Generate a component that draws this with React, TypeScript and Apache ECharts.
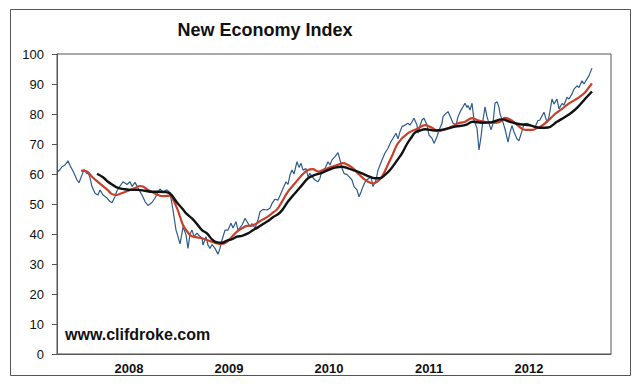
import React, { useEffect, useRef } from "react";
import * as echarts from "echarts";

const titleText = "New Economy Index";
const watermarkText = "www.clifdroke.com";
const yearLabels = [2008, 2009, 2010, 2011, 2012];
const xMin = 2007.28;
const xMax = 2012.82;
const yMin = 0;
const yMax = 100;
const yStep = 10;

// [decimal year, index value]
const blueIndex: [number, number][] = [
  [2007.28, 60.5], [2007.31, 61.5], [2007.33, 62.4], [2007.36, 63], [2007.39, 64.4], [2007.41, 62.8],
  [2007.44, 61], [2007.48, 58], [2007.5, 57.1], [2007.53, 59.7], [2007.55, 61.5], [2007.58, 60],
  [2007.59, 60.5], [2007.61, 58.7], [2007.63, 55.8], [2007.66, 53.6], [2007.69, 53], [2007.71, 54.7],
  [2007.74, 53], [2007.78, 52], [2007.81, 50.8], [2007.83, 50.4], [2007.86, 52.5], [2007.88, 54.4],
  [2007.91, 56], [2007.94, 57.4], [2007.98, 56.5], [2008.01, 57.4], [2008.03, 55.8], [2008.06, 57.2],
  [2008.09, 55.3], [2008.13, 53], [2008.16, 50.8], [2008.19, 49.5], [2008.23, 50.5], [2008.26, 52],
  [2008.29, 54], [2008.31, 55], [2008.34, 54], [2008.38, 54.7], [2008.41, 53.8], [2008.44, 48],
  [2008.47, 41.3], [2008.49, 39.1], [2008.51, 36.7], [2008.53, 40.3], [2008.54, 42.4], [2008.57, 39.8],
  [2008.59, 35.2], [2008.61, 40], [2008.63, 41.3], [2008.65, 39.1], [2008.68, 40.3], [2008.7, 39.5],
  [2008.73, 38.7], [2008.74, 36.3], [2008.77, 39.1], [2008.79, 36.3], [2008.81, 35.2], [2008.83, 36.5],
  [2008.86, 35.2], [2008.89, 33.3], [2008.91, 35.2], [2008.93, 38], [2008.96, 41.3], [2008.99, 41.3],
  [2009.02, 43.6], [2009.04, 42], [2009.07, 44.1], [2009.09, 41.3], [2009.13, 43], [2009.16, 45.2],
  [2009.19, 43.6], [2009.21, 42.4], [2009.23, 43.5], [2009.26, 41.9], [2009.29, 44.7], [2009.31, 47.4],
  [2009.34, 48.2], [2009.38, 48], [2009.41, 48.6], [2009.43, 50.2], [2009.46, 51.6], [2009.49, 51.3],
  [2009.52, 53.6], [2009.54, 55.2], [2009.57, 57.4], [2009.59, 56.5], [2009.61, 59.7], [2009.63, 61.3],
  [2009.65, 60], [2009.68, 64.1], [2009.7, 62.2], [2009.72, 63.6], [2009.74, 61.3], [2009.77, 61.8],
  [2009.79, 59.1], [2009.81, 60.2], [2009.83, 59.1], [2009.86, 58], [2009.89, 57.4], [2009.91, 58.6],
  [2009.93, 61.3], [2009.96, 61.8], [2009.99, 64.1], [2010.01, 63], [2010.03, 64.7], [2010.06, 65.8],
  [2010.09, 67.1], [2010.11, 64.7], [2010.13, 61.9], [2010.15, 60.2], [2010.18, 59.8], [2010.2, 59.1],
  [2010.23, 58], [2010.25, 55.8], [2010.28, 54.7], [2010.3, 52.4], [2010.32, 54], [2010.34, 55.8],
  [2010.37, 58], [2010.39, 58.3], [2010.42, 59.1], [2010.44, 55.8], [2010.47, 58], [2010.49, 61.3],
  [2010.51, 63], [2010.53, 64.7], [2010.56, 67], [2010.59, 68.6], [2010.62, 70.8], [2010.64, 71.9],
  [2010.67, 73.6], [2010.69, 71.7], [2010.71, 74.1], [2010.73, 75.8], [2010.76, 76.3], [2010.79, 76.9],
  [2010.81, 76.3], [2010.83, 77.4], [2010.85, 78.6], [2010.88, 76.3], [2010.89, 73.6], [2010.91, 76],
  [2010.93, 78], [2010.95, 78.6], [2010.98, 76.3], [2011.0, 73], [2011.03, 71.9], [2011.05, 70.2],
  [2011.08, 72.4], [2011.1, 74.7], [2011.13, 76.9], [2011.14, 79.1], [2011.17, 80.2], [2011.19, 80.8],
  [2011.22, 78.6], [2011.24, 76.9], [2011.27, 76.3], [2011.29, 79.1], [2011.32, 81.3], [2011.34, 82.4],
  [2011.36, 83.6], [2011.38, 82.2], [2011.39, 82.8], [2011.41, 81.3], [2011.43, 83.6], [2011.45, 78],
  [2011.48, 75.2], [2011.5, 68], [2011.52, 72.4], [2011.54, 78], [2011.56, 82.4], [2011.58, 79.1],
  [2011.6, 76.9], [2011.62, 74.7], [2011.64, 76.9], [2011.66, 83.6], [2011.68, 84.1], [2011.7, 82.2],
  [2011.71, 80], [2011.73, 78.3], [2011.76, 75], [2011.79, 70.6], [2011.81, 73.9], [2011.83, 76.1],
  [2011.85, 74], [2011.88, 71.7], [2011.9, 71.1], [2011.93, 74.4], [2011.95, 76.7], [2011.98, 76.9],
  [2012.01, 76.5], [2012.03, 76], [2012.06, 75.6], [2012.09, 77.8], [2012.11, 78], [2012.13, 79.4],
  [2012.15, 80.6], [2012.18, 77.2], [2012.2, 79], [2012.23, 85], [2012.25, 83.3], [2012.28, 85],
  [2012.3, 81.7], [2012.33, 83.5], [2012.35, 83], [2012.38, 85.6], [2012.4, 85], [2012.43, 86.7],
  [2012.45, 88.3], [2012.48, 89.4], [2012.5, 88.8], [2012.53, 91.1], [2012.55, 90], [2012.58, 91.7],
  [2012.6, 92.8], [2012.63, 95.3],
];

const redAverage: [number, number][] = [
  [2007.52, 61.1], [2007.58, 60.8], [2007.63, 59.1], [2007.68, 57.6], [2007.73, 56.2], [2007.78, 54.9],
  [2007.83, 53.3], [2007.88, 53], [2007.91, 53.4], [2007.96, 54], [2008.01, 54.7], [2008.06, 55.3],
  [2008.11, 56], [2008.14, 55.8], [2008.19, 54.7], [2008.24, 53.8], [2008.29, 53], [2008.34, 52.6],
  [2008.41, 52.8], [2008.44, 51.5], [2008.48, 48.6], [2008.51, 45.8], [2008.54, 43], [2008.58, 40.9],
  [2008.63, 39.2], [2008.68, 38.9], [2008.73, 38.6], [2008.78, 38], [2008.83, 37.4], [2008.88, 36.9],
  [2008.93, 36.7], [2008.98, 37.4], [2009.03, 39.1], [2009.08, 40.8], [2009.13, 41.9], [2009.18, 42.7],
  [2009.23, 42.8], [2009.28, 43.6], [2009.33, 44.7], [2009.38, 45.6], [2009.43, 46.9], [2009.48, 48.2],
  [2009.53, 50.8], [2009.59, 54.1], [2009.66, 56.9], [2009.73, 59.7], [2009.79, 61.3], [2009.84, 61.6],
  [2009.89, 60.8], [2009.94, 61.3], [2010.01, 62.2], [2010.08, 63], [2010.14, 63.6], [2010.19, 63],
  [2010.24, 61.9], [2010.29, 60.2], [2010.34, 58.6], [2010.39, 57.4], [2010.44, 56.9], [2010.48, 57.4],
  [2010.53, 59.1], [2010.58, 62.5], [2010.63, 66], [2010.69, 70.3], [2010.79, 73.6], [2010.89, 75.2],
  [2010.96, 76.3], [2011.03, 75.4], [2011.09, 74.3], [2011.16, 74.9], [2011.23, 75.8], [2011.29, 76.9],
  [2011.36, 77.4], [2011.43, 78.6], [2011.48, 78], [2011.56, 77.4], [2011.64, 77], [2011.71, 77.4],
  [2011.76, 78.7], [2011.83, 77.8], [2011.89, 76.1], [2011.96, 74.7], [2012.03, 74.7], [2012.08, 75.3],
  [2012.13, 76.1], [2012.19, 77.8], [2012.26, 80], [2012.33, 81.7], [2012.39, 83.3], [2012.46, 84.7],
  [2012.51, 85.8], [2012.56, 87.2], [2012.6, 88.9], [2012.63, 90.2],
];

const blackAverage: [number, number][] = [
  [2007.68, 60.1], [2007.74, 58.9], [2007.79, 57.4], [2007.84, 56.3], [2007.89, 55.4], [2007.96, 54.9],
  [2008.03, 54.7], [2008.09, 54.7], [2008.16, 54.4], [2008.23, 54.1], [2008.29, 54.1], [2008.36, 54],
  [2008.41, 53.5], [2008.48, 50.5], [2008.53, 48.6], [2008.58, 46.6], [2008.63, 45.2], [2008.68, 43.3],
  [2008.73, 41.3], [2008.78, 40.2], [2008.83, 38.2], [2008.88, 37.2], [2008.93, 37.1], [2008.98, 37.8],
  [2009.03, 38.3], [2009.08, 39.1], [2009.13, 39.4], [2009.19, 40.2], [2009.24, 41.3], [2009.29, 42.2],
  [2009.34, 43.3], [2009.39, 44.3], [2009.44, 45.6], [2009.51, 47.1], [2009.59, 50.8], [2009.66, 53.6],
  [2009.73, 56.3], [2009.79, 58.6], [2009.86, 59.7], [2009.93, 60.4], [2009.99, 61.3], [2010.06, 62.1],
  [2010.13, 62.4], [2010.19, 61.9], [2010.26, 61.1], [2010.33, 60.2], [2010.39, 59.3], [2010.46, 58.6],
  [2010.51, 58.6], [2010.56, 59.7], [2010.61, 61.3], [2010.68, 64.5], [2010.73, 66.9], [2010.78, 70],
  [2010.82, 72], [2010.86, 73.8], [2010.91, 74.5], [2010.96, 74.9], [2011.06, 74.5], [2011.16, 74.9],
  [2011.26, 75.8], [2011.36, 76.3], [2011.44, 77.4], [2011.53, 77.1], [2011.63, 77.3], [2011.73, 78.2],
  [2011.81, 77.4], [2011.91, 76.6], [2012.01, 76.2], [2012.11, 75.4], [2012.19, 75.5], [2012.28, 77.4],
  [2012.36, 79], [2012.43, 80.6], [2012.49, 82.4], [2012.56, 85], [2012.63, 87.5],
];

const FONT = '"Liberation Sans", Arial, Helvetica, sans-serif';

export default function App() {
  const ref = useRef<HTMLDivElement>(null);

  useEffect(() => {
    if (!ref.current) return;
    const chart = echarts.init(ref.current, null, { renderer: "svg" });
    chart.setOption({
      animation: false,
      backgroundColor: "#ffffff",
      grid: {
        left: 57,
        top: 54,
        width: 554,
        height: 300,
        show: true,
        borderColor: "#555",
        borderWidth: 1,
        backgroundColor: "transparent",
        containLabel: false,
      },
      xAxis: {
        type: "value",
        min: xMin,
        max: xMax,
        splitLine: { show: false },
        axisTick: { show: false },
        axisLine: { show: true, onZero: false, lineStyle: { color: "#555", width: 1 } },
        axisLabel: {
          customValues: yearLabels,
          formatter: (v: number) => String(Math.round(v)),
          fontWeight: "bold",
          fontSize: 13,
          color: "#111",
          fontFamily: FONT,
          margin: 8,
        },
      },
      yAxis: {
        type: "value",
        min: yMin,
        max: yMax,
        interval: yStep,
        splitLine: { show: false },
        axisLine: { show: true, lineStyle: { color: "#555", width: 1 } },
        axisTick: { show: true, length: 5, lineStyle: { color: "#555" } },
        axisLabel: { fontSize: 13, color: "#111", fontFamily: FONT, margin: 13 },
      },
      series: [
        {
          name: "Index",
          type: "line",
          data: blueIndex,
          symbol: "none",
          lineStyle: { width: 1.2, color: "#2e5a8c" },
          itemStyle: { color: "#2e5a8c" },
          z: 2,
        },
        {
          name: "Short average",
          type: "line",
          data: redAverage,
          symbol: "none",
          smooth: 0.4,
          lineStyle: { width: 2.2, color: "#c8402a" },
          itemStyle: { color: "#c8402a" },
          z: 3,
        },
        {
          name: "Long average",
          type: "line",
          data: blackAverage,
          symbol: "none",
          smooth: 0.4,
          lineStyle: { width: 2.4, color: "#111111" },
          itemStyle: { color: "#111111" },
          z: 4,
        },
      ],
      graphic: [
        {
          type: "rect",
          shape: { x: 10.5, y: 9.5, width: 620, height: 366 },
          style: { fill: "none", stroke: "#555", lineWidth: 1 },
          silent: true,
        },
        {
          type: "text",
          x: 265,
          y: 30,
          style: {
            text: titleText,
            fill: "#111",
            font: `bold 18px ${FONT}`,
            textAlign: "center",
            textVerticalAlign: "middle",
            verticalAlign: "middle",
          },
        },
        {
          type: "text",
          x: 65,
          y: 334,
          style: {
            text: watermarkText,
            fill: "#111",
            font: `bold 16px ${FONT}`,
            textAlign: "left",
            textVerticalAlign: "middle",
            verticalAlign: "middle",
          },
        },
      ],
    });
    return () => chart.dispose();
  }, []);

  return (
    <div
      ref={ref}
      style={{ position: "absolute", left: 0, top: 0, width: 640, height: 388 }}
    />
  );
}
